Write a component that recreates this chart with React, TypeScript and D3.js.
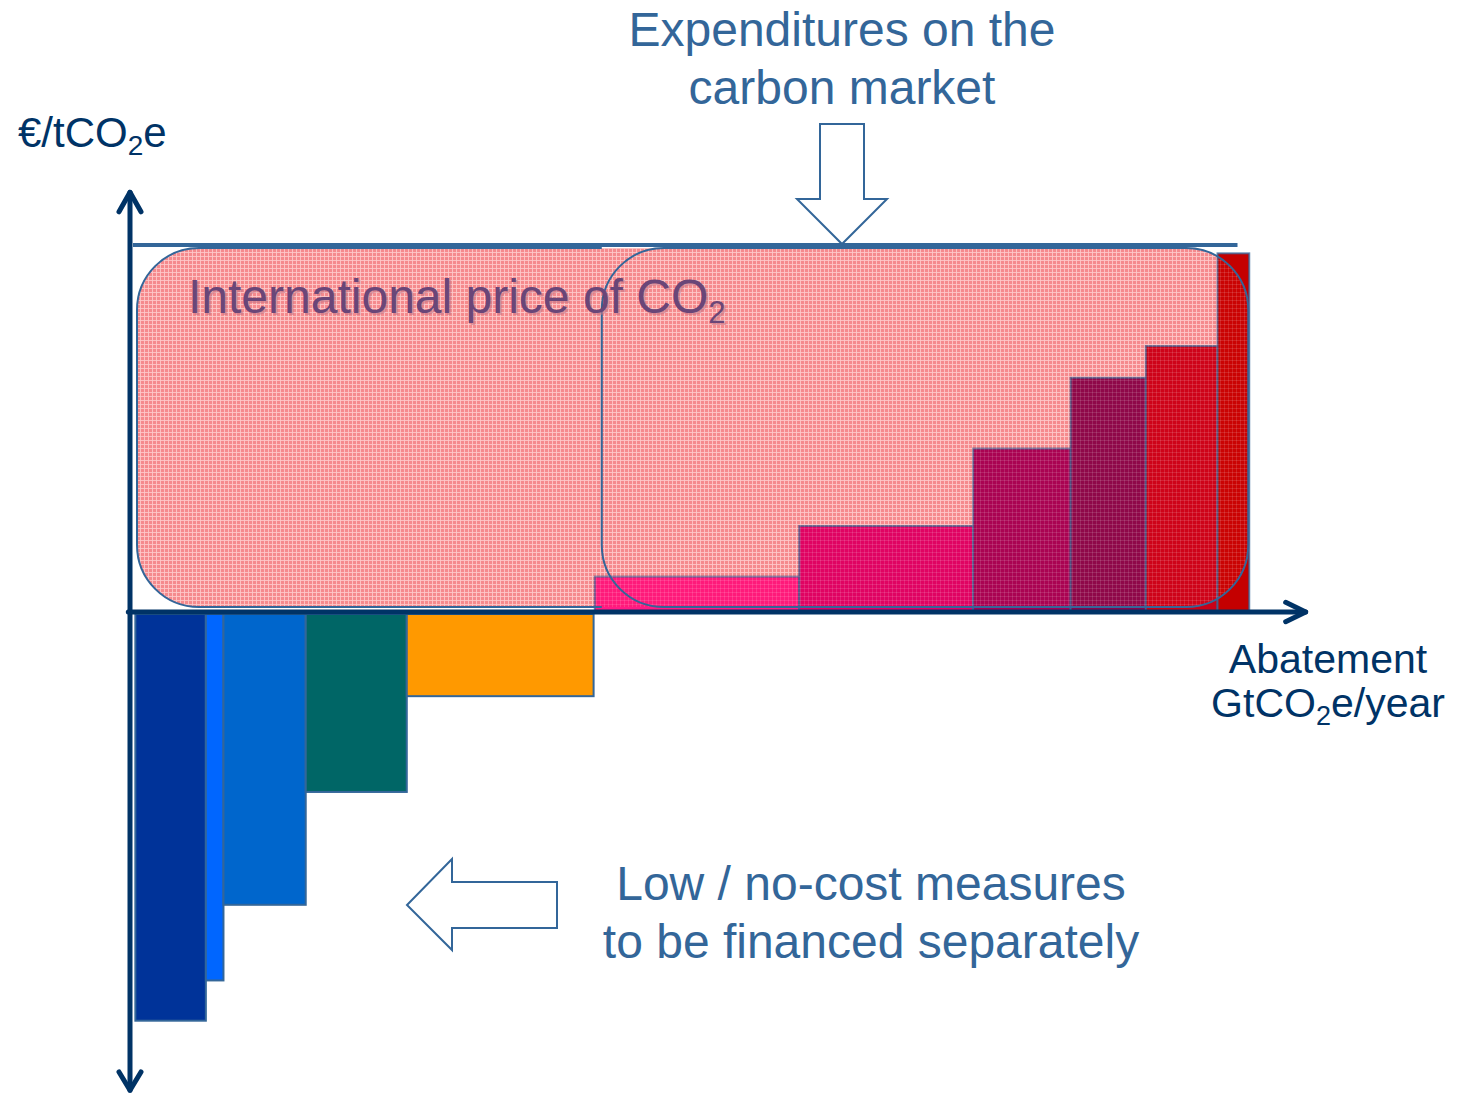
import * as d3 from "d3";

// Marginal abatement cost curve (schematic)
const negWidths = [6.0, 1.5, 7.0, 8.6, 15.9];
const negCosts = [-33.5, -30.2, -24.0, -14.75, -6.9];
const negColors = ["#003399", "#0066ff", "#0066cc", "#006666", "#ff9900"];

const posWidths = [17.4, 14.8, 8.3, 6.4, 6.1, 2.7];
const posCosts = [2.9, 7.05, 13.4, 19.2, 21.8, 29.4];
const posColors = ["#ff1a85", "#dc006a", "#a00058", "#82064e", "#c80018", "#c40000"];

const carbonPrice = 30;
const startAbatement = 0.2;
const gap = 0.1;

const W = 1461;
const H = 1093;
const FONT = "'Liberation Sans', Arial, sans-serif";

function stack(widths: number[], costs: number[], colors: string[], start: number) {
  let acc = start;
  return widths.map((w, i) => {
    const d = { x0: acc, x1: acc + w, cost: costs[i], color: colors[i] };
    acc += w;
    return d;
  });
}

export default function App() {
  const x = d3.scaleLinear().domain([0, 100]).range([133, 1308]);
  const y = d3.scaleLinear().domain([0, carbonPrice]).range([612, 246]);

  const neg = stack(negWidths, negCosts, negColors, startAbatement);
  const posStart = neg[neg.length - 1].x1 + gap;
  const pos = stack(posWidths, posCosts, posColors, posStart);
  const posEnd = pos[pos.length - 1].x1;

  const boxTop = y(carbonPrice) + 2;
  const boxBottom = y(0) - 5;
  const leftBox = { x: x(0) + 4, w: 900 - (x(0) + 4) };
  const rightBox = { x: x(posStart) + 7, w: x(posEnd) - 1 - (x(posStart) + 7) };
  const r = 62;

  const axisColor = "#003366";
  const lineColor = "#336699";

  // annotation arrows (block arrows)
  const dTip = [842, y(carbonPrice) - 2];
  const downArrow = [
    [dTip[0] - 22, 124], [dTip[0] + 22, 124], [dTip[0] + 22, 199], [dTip[0] + 45, 199],
    dTip, [dTip[0] - 45, 199], [dTip[0] - 22, 199],
  ];
  const lTip = [407, 905];
  const leftArrow = [
    [557, lTip[1] - 23], [lTip[0] + 45, lTip[1] - 23], [lTip[0] + 45, lTip[1] - 46], lTip,
    [lTip[0] + 45, lTip[1] + 45], [lTip[0] + 45, lTip[1] + 23], [557, lTip[1] + 23],
  ];
  const pts = (p: number[][]) => p.map((q) => q.join(",")).join(" ");

  return (
    <svg width={W} height={H} style={{ position: "fixed", left: 0, top: 0, background: "#fff" }} fontFamily={FONT}>
      <defs>
        <pattern id="pinkGrid" width={4} height={4} patternUnits="userSpaceOnUse">
          <rect width={4} height={4} fill="#f4969a" />
          <rect width={4} height={1} fill="#fcc8ca" />
          <rect width={1} height={4} fill="#fcc8ca" />
        </pattern>
        <pattern id="overGrid" width={4} height={4} patternUnits="userSpaceOnUse">
          <rect width={4} height={4} fill="#ff2020" fillOpacity={0.1} />
          <rect width={4} height={1} fill="#ffffff" fillOpacity={0.12} />
          <rect width={1} height={4} fill="#ffffff" fillOpacity={0.12} />
        </pattern>
        <clipPath id="boxesClip">
          <rect x={leftBox.x} y={boxTop} width={leftBox.w} height={boxBottom - boxTop} rx={r} />
          <rect x={rightBox.x} y={boxTop} width={rightBox.w} height={boxBottom - boxTop} rx={r} />
        </clipPath>
        <clipPath id="leftOnly">
          <rect x={0} y={0} width={rightBox.x} height={H} />
        </clipPath>
      </defs>

      {/* price zones */}
      <g>
        <rect x={leftBox.x} y={boxTop} width={leftBox.w} height={boxBottom - boxTop} rx={r} fill="url(#pinkGrid)" />
        <rect x={rightBox.x} y={boxTop} width={rightBox.w} height={boxBottom - boxTop} rx={r} fill="url(#pinkGrid)" />
      </g>

      {/* positive cost bars */}
      {pos.map((d, i) => (
        <rect key={"p" + i} x={x(d.x0)} y={y(d.cost)} width={x(d.x1) - x(d.x0)} height={y(0) - y(d.cost)}
          fill={d.color} stroke={lineColor} strokeOpacity={0.75} strokeWidth={2} />
      ))}
      <rect x={0} y={0} width={W} height={H} fill="url(#overGrid)" clipPath="url(#boxesClip)" />

      {/* negative cost bars */}
      {neg.map((d, i) => (
        <rect key={"n" + i} x={x(d.x0)} y={y(0) + 2} width={x(d.x1) - x(d.x0)} height={y(d.cost) - y(0) - 2}
          fill={d.color} stroke={lineColor} strokeWidth={2} />
      ))}

      {/* box outlines */}
      <rect x={leftBox.x} y={boxTop} width={leftBox.w} height={boxBottom - boxTop} rx={r}
        fill="none" stroke={lineColor} strokeWidth={2} clipPath="url(#leftOnly)" />
      <rect x={rightBox.x} y={boxTop} width={rightBox.w} height={boxBottom - boxTop} rx={r}
        fill="none" stroke={lineColor} strokeWidth={2} />

      {/* international price line */}
      <line x1={x(0)} x2={x(94)} y1={y(carbonPrice) - 1} y2={y(carbonPrice) - 1} stroke={lineColor} strokeWidth={4} />

      {/* axes */}
      <g stroke={axisColor} strokeWidth={5} fill="none" strokeLinecap="round" strokeLinejoin="round">
        <line x1={x(0) - 3} x2={x(0) - 3} y1={y(34.4)} y2={y(-39.2)} />
        <polyline points={pts([[x(0) - 14, y(32.8)], [x(0) - 3, y(34.4)], [x(0) + 8, y(32.8)]])} />
        <polyline points={pts([[x(0) - 14, y(-37.7)], [x(0) - 3, y(-39.2)], [x(0) + 8, y(-37.7)]])} />
        <line x1={x(-0.4)} x2={x(99.8)} y1={y(0)} y2={y(0)} />
        <polyline points={pts([[x(98.1), y(0.8)], [x(99.8), y(0)], [x(98.1), y(-0.8)]])} />
      </g>

      {/* block arrows */}
      <polygon points={pts(downArrow)} fill="#fff" stroke={lineColor} strokeWidth={2} />
      <polygon points={pts(leftArrow)} fill="#fff" stroke={lineColor} strokeWidth={2} />

      {/* texts */}
      <text x={18} y={147} fontSize={42} fill={axisColor}>
        €/tCO<tspan fontSize={28} dy={8}>2</tspan><tspan dy={-8}>e</tspan>
      </text>

      <g fontSize={48} fill={lineColor} textAnchor="middle">
        <text x={842} y={46}>Expenditures on the</text>
        <text x={842} y={104}>carbon market</text>
        <text x={871} y={900}>Low / no-cost measures</text>
        <text x={871} y={958}>to be financed separately</text>
      </g>

      <text x={190} y={315} fontSize={48} fill="#c87888" fillOpacity={0.6}>
        International price of CO<tspan fontSize={31} dy={10}>2</tspan>
      </text>
      <text x={188} y={313} fontSize={48} fill="#6a4678">
        International price of CO<tspan fontSize={31} dy={10}>2</tspan>
      </text>

      <g fontSize={41} fill={axisColor} textAnchor="middle">
        <text x={1328} y={673}>Abatement</text>
        <text x={1328} y={717}>
          GtCO<tspan fontSize={27} dy={8}>2</tspan><tspan dy={-8}>e/year</tspan>
        </text>
      </g>
    </svg>
  );
}
